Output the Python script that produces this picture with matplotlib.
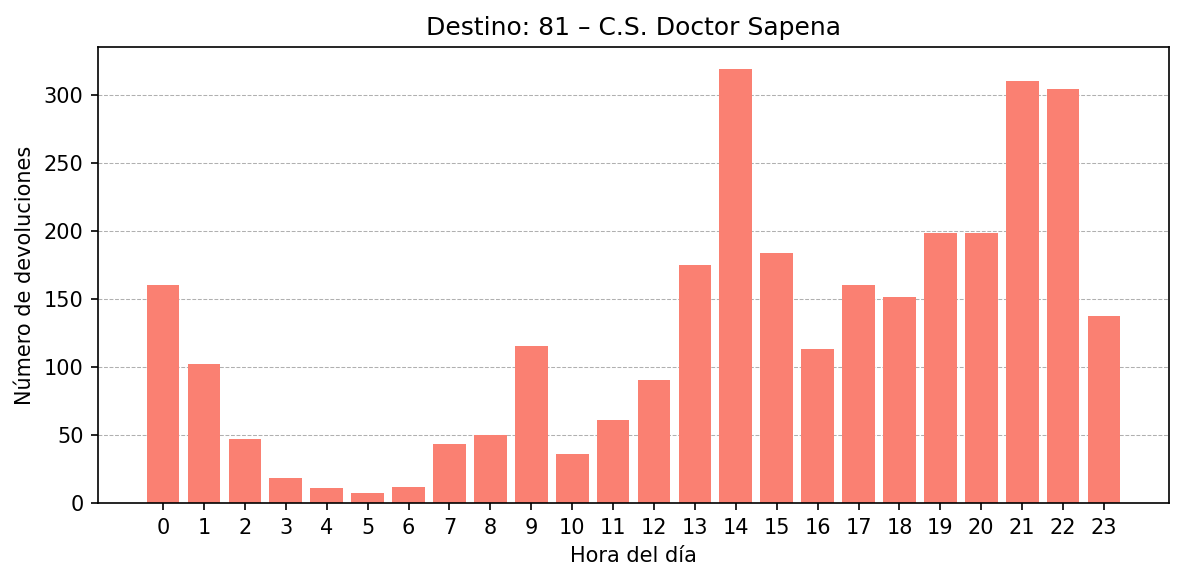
import matplotlib
matplotlib.use("Agg")
import matplotlib.pyplot as plt

horas = list(range(24))
devoluciones = [160, 102, 47, 18, 11, 7, 12, 43, 50, 115, 36, 61, 90, 175,
                319, 184, 113, 160, 151, 198, 198, 310, 304, 137]

fig, ax = plt.subplots(figsize=(1184/150, 581/150), dpi=150)
ax.bar(horas, devoluciones, color="salmon")
ax.set_xticks(horas)
ax.set_title("Destino: 81 – C.S. Doctor Sapena")
ax.set_xlabel("Hora del día")
ax.set_ylabel("Número de devoluciones")
ax.grid(axis="y", linestyle="--", linewidth=0.5)
ax.set_axisbelow(True)
fig.subplots_adjust(left=98/1184, right=1169/1184, top=1-47/581, bottom=1-503/581)
fig.savefig("out.png", dpi=150)
